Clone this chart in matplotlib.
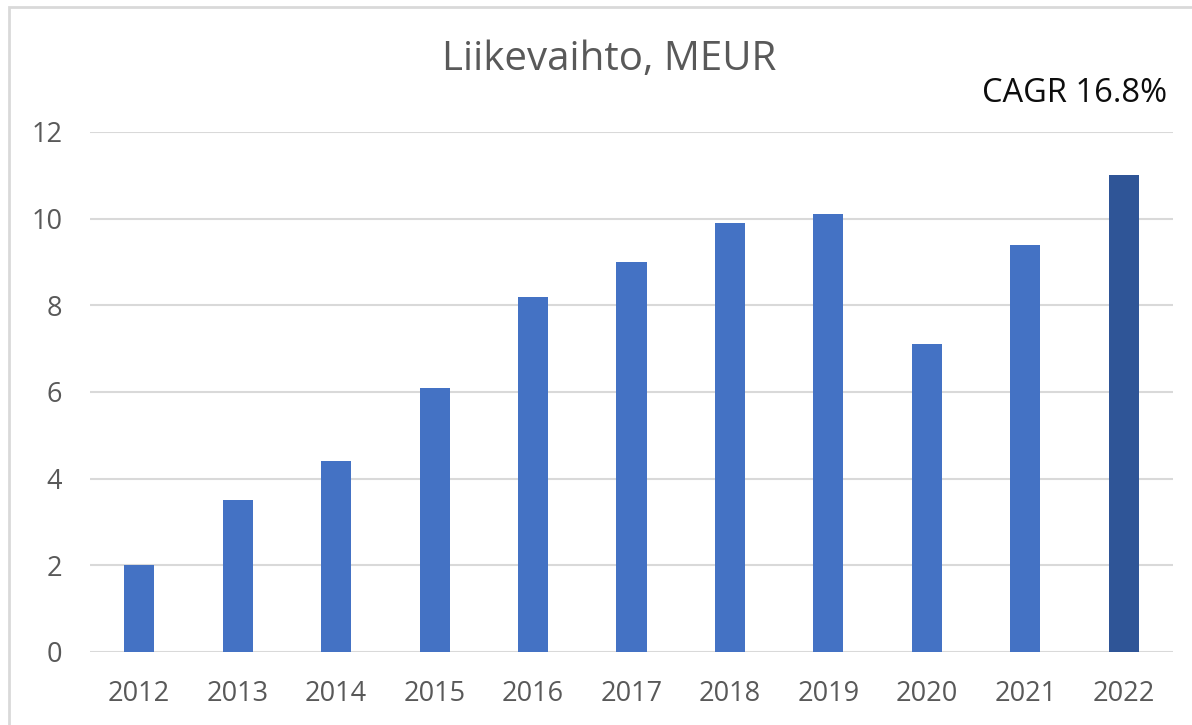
import matplotlib.pyplot as plt
from matplotlib.patches import Rectangle

years = ['2012', '2013', '2014', '2015', '2016', '2017', '2018', '2019', '2020', '2021', '2022']
revenue = [2.0, 3.5, 4.4, 6.1, 8.2, 9.0, 9.9, 10.1, 7.1, 9.4, 11.0]
yticks = [0, 2, 4, 6, 8, 10, 12]

plt.rcParams['font.family'] = ['Open Sans', 'DejaVu Sans']

colours = ['#4472C4'] * (len(years) - 1) + ['#2F5597']

fig = plt.figure(figsize=(11.92, 7.25), dpi=100)
ax = fig.add_axes([90/1192, 1 - 652/725, (1173-90)/1192, (652-132)/725])

ax.bar(range(len(years)), revenue, width=0.305, color=colours, zorder=3)
ax.set_xlim(-0.5, len(years) - 0.5)
ax.set_ylim(0, 12)
ax.set_yticks(yticks)
ax.set_xticks(range(len(years)))
ax.set_xticklabels(years)
ax.grid(axis='y', color='#D9D9D9', linewidth=1.5, zorder=0)
for s in ax.spines.values():
	s.set_visible(False)
ax.tick_params(axis='both', length=0, labelsize=19.5, colors='#595959')
ax.tick_params(axis='y', pad=20)
ax.tick_params(axis='x', pad=20)

fig.text(609/1192, 1 - 60/725, 'Liikevaihto, MEUR', ha='center', va='center', fontsize=29, color='#595959')
fig.text(1167/1192, 1 - 94/725, 'CAGR 16.8%', ha='right', va='center', fontsize=23.5, color='#0D0D0D')

# outer chart frame
fig.patches.append(Rectangle((8.5/1192, -0.05), 1.1, 1 - 7/725 + 0.05, transform=fig.transFigure,
	fill=False, edgecolor='#D9D9D9', linewidth=2))

fig.savefig('out.png', dpi=100)
